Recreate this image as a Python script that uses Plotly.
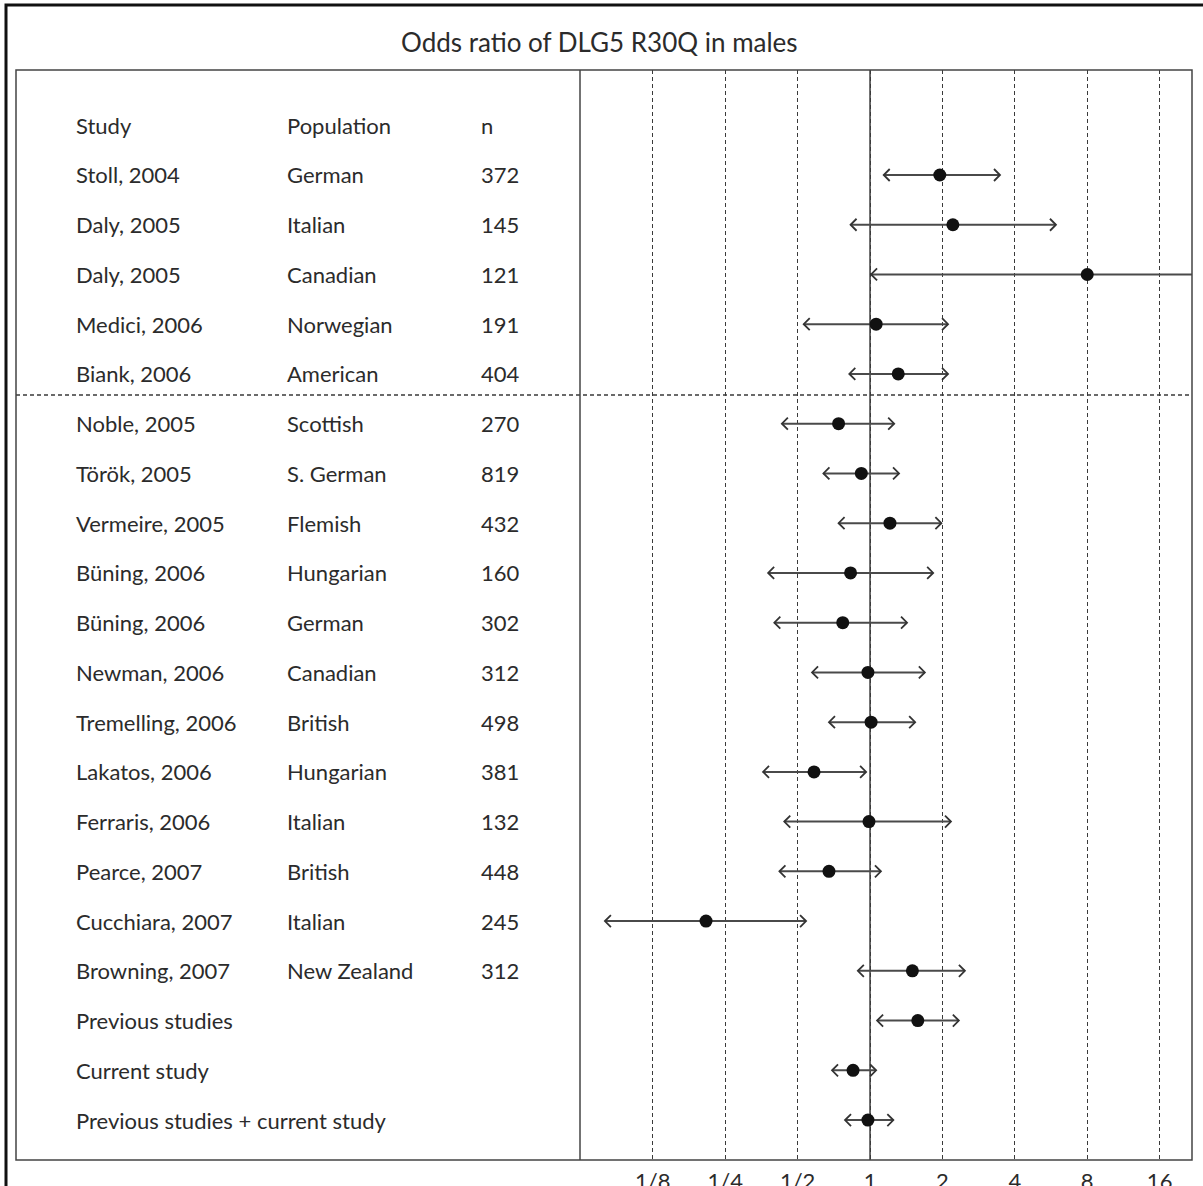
import numpy as np
import plotly.graph_objects as go

# ---- data -------------------------------------------------------------
studies = [
    "Stoll, 2004", "Daly, 2005", "Daly, 2005", "Medici, 2006", "Biank, 2006",
    "Noble, 2005", "Török, 2005", "Vermeire, 2005", "Büning, 2006", "Büning, 2006",
    "Newman, 2006", "Tremelling, 2006", "Lakatos, 2006", "Ferraris, 2006",
    "Pearce, 2007", "Cucchiara, 2007", "Browning, 2007",
    "Previous studies", "Current study", "Previous studies + current study",
]
populations = [
    "German", "Italian", "Canadian", "Norwegian", "American",
    "Scottish", "S. German", "Flemish", "Hungarian", "German",
    "Canadian", "British", "Hungarian", "Italian",
    "British", "Italian", "New Zealand",
    "", "", "",
]
sizes = [
    "372", "145", "121", "191", "404",
    "270", "819", "432", "160", "302",
    "312", "498", "381", "132",
    "448", "245", "312",
    "", "", "",
]
odds_ratio = [
    1.95, 2.21, 8.0, 1.06, 1.31,
    0.74, 0.92, 1.21, 0.83, 0.77,
    0.98, 1.01, 0.585, 0.99,
    0.675, 0.208, 1.50,
    1.58, 0.85, 0.98,
]
ci_low = [
    1.14, 0.83, 1.01, 0.53, 0.82,
    0.43, 0.64, 0.74, 0.377, 0.40,
    0.574, 0.675, 0.359, 0.44,
    0.42, 0.079, 0.89,
    1.07, 0.695, 0.787,
]
ci_high = [
    3.47, 5.93, 32.0, 2.11, 2.11,
    1.26, 1.32, 1.98, 1.83, 1.425,
    1.69, 1.54, 0.963, 2.17,
    1.11, 0.542, 2.48,
    2.34, 1.06, 1.25,
]
header = ["Study", "Population", "n"]
tick_values = [1 / 8, 1 / 4, 1 / 2, 1, 2, 4, 8, 16]
tick_labels = ["1/8", "1/4", "1/2", "1", "2", "4", "8", "16"]
title_text = "Odds ratio of DLG5 R30Q in males"

# ---- page geometry (pixels) -------------------------------------------
W, H = 1203, 1186
FONT = "Lato"
TEXT_COLOR = "#2b2b2b"
LINE_COLOR = "#3a3a3a"

box_left, box_right, box_top, box_bottom = 16, 1192, 70, 1160
plot_left = 580
col_x = [74, 285, 479]


def px(x):
    return x / W


def py(y):
    return 1 - y / H


rows = np.arange(1, len(studies) + 1)
row_top = -1.111
row_bottom = 20.803

fig = go.Figure()

# confidence-interval segments
seg_x, seg_y = [], []
for lo, hi, r in zip(ci_low, ci_high, rows):
    seg_x += [lo, hi, None]
    seg_y += [r, r, None]
fig.add_trace(go.Scatter(
    x=seg_x, y=seg_y, mode="lines",
    line=dict(color="#4a4a4a", width=2),
    hoverinfo="skip", showlegend=False,
))

# point estimates
fig.add_trace(go.Scatter(
    x=odds_ratio, y=rows, mode="markers",
    marker=dict(color="#111111", size=13, line=dict(width=0)),
    showlegend=False,
))

shapes = []

# open arrowheads at both ends of every interval
for lo, hi, r in zip(ci_low, ci_high, rows):
    for end, path in ((lo, "M6,6 L0,0 L6,-6"), (hi, "M-6,6 L0,0 L-6,-6")):
        shapes.append(dict(
            type="path", xref="x", yref="y",
            xsizemode="pixel", ysizemode="pixel",
            xanchor=end, yanchor=r, path=path,
            line=dict(color="#333333", width=1.8),
        ))

# solid reference line at OR = 1
shapes.append(dict(
    type="line", xref="x", yref="paper", x0=1, x1=1,
    y0=py(box_bottom), y1=py(box_top),
    line=dict(color=LINE_COLOR, width=1.5), layer="below",
))

# dashed separator between the first and second study groups
shapes.append(dict(
    type="line", xref="paper", yref="y",
    x0=px(box_left), x1=px(box_right), y0=5.423, y1=5.423,
    line=dict(color=LINE_COLOR, width=1.3, dash="4px,3px"),
))

# inner frame and column divider
shapes.append(dict(
    type="rect", xref="paper", yref="paper",
    x0=px(box_left), x1=px(box_right), y0=py(box_bottom), y1=py(box_top),
    line=dict(color="#444444", width=1.5),
))
shapes.append(dict(
    type="line", xref="paper", yref="paper",
    x0=px(plot_left), x1=px(plot_left), y0=py(box_bottom), y1=py(box_top),
    line=dict(color="#444444", width=1.5),
))

# outer frame (runs off the right and bottom of the page)
shapes.append(dict(
    type="rect", xref="paper", yref="paper",
    x0=px(6), x1=px(W + 20), y0=py(H + 20), y1=py(5),
    line=dict(color="#111111", width=3),
))

annotations = []
annotations.append(dict(
    text=title_text, xref="paper", yref="paper",
    x=px(599), y=py(42), xanchor="center", yanchor="middle",
    showarrow=False, font=dict(family=FONT, size=26, color=TEXT_COLOR),
))

for cx, label in zip(col_x, header):
    annotations.append(dict(
        text=label, xref="paper", yref="y", x=px(cx), y=0,
        xanchor="left", yanchor="middle", showarrow=False,
        font=dict(family=FONT, size=22, color=TEXT_COLOR),
    ))

for r, s, p, n in zip(rows, studies, populations, sizes):
    for cx, label in zip(col_x, (s, p, n)):
        if label:
            annotations.append(dict(
                text=label, xref="paper", yref="y", x=px(cx), y=r,
                xanchor="left", yanchor="middle", showarrow=False,
                font=dict(family=FONT, size=22, color=TEXT_COLOR),
            ))

x_lo = np.log10(2 ** -4.006)
x_hi = np.log10(2 ** 4.447)

fig.update_layout(
    width=W, height=H,
    margin=dict(l=0, r=0, t=0, b=0, autoexpand=False),
    paper_bgcolor="white", plot_bgcolor="white",
    showlegend=False,
    shapes=shapes, annotations=annotations,
    xaxis=dict(
        type="log", range=[x_lo, x_hi],
        domain=[px(plot_left), px(box_right)],
        tickmode="array", tickvals=tick_values, ticktext=tick_labels,
        tickfont=dict(family=FONT, size=22, color=TEXT_COLOR),
        ticklabelstandoff=6, automargin=False,
        showgrid=True, gridcolor=LINE_COLOR, gridwidth=1.2, griddash="4px,3px",
        zeroline=False, showline=False, ticks="", anchor="y",
    ),
    yaxis=dict(
        range=[row_bottom, row_top],
        domain=[py(box_bottom), py(box_top)],
        showgrid=False, zeroline=False, showticklabels=False, showline=False,
        ticks="", automargin=False,
    ),
)

fig.write_html("out.html")
